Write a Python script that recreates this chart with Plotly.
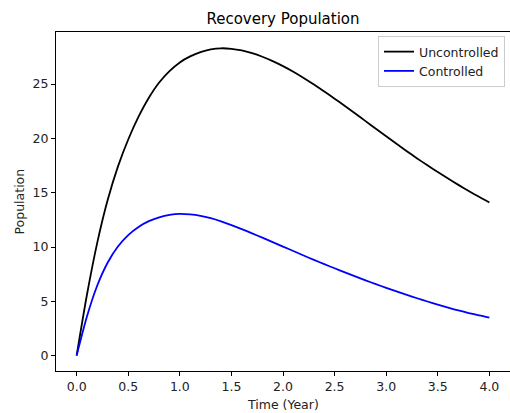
import plotly.graph_objects as go

time_years = [round(0.1 * i, 1) for i in range(41)]

uncontrolled = [0.0, 5.6, 10.4, 14.3, 17.4, 19.9, 22.0, 23.75, 25.15, 26.2,
                27.0, 27.55, 27.95, 28.2, 28.3, 28.25, 28.1, 27.85, 27.52, 27.12,
                26.66, 26.14, 25.57, 24.96, 24.32, 23.66, 22.98, 22.29, 21.59, 20.89,
                20.19, 19.5, 18.82, 18.16, 17.52, 16.9, 16.3, 15.72, 15.16, 14.62,
                14.1]

controlled = [0.0, 3.6, 6.45, 8.55, 10.05, 11.1, 11.85, 12.38, 12.72, 12.95,
              13.05, 13.0, 12.87, 12.65, 12.36, 12.02, 11.65, 11.26, 10.86, 10.45,
              10.04, 9.63, 9.22, 8.81, 8.42, 8.04, 7.66, 7.29, 6.93, 6.58,
              6.24, 5.91, 5.59, 5.28, 4.98, 4.69, 4.42, 4.16, 3.92, 3.7,
              3.5]

x_ticks = [0.0, 0.5, 1.0, 1.5, 2.0, 2.5, 3.0, 3.5, 4.0]
x_tick_labels = ["0.0", "0.5", "1.0", "1.5", "2.0", "2.5", "3.0", "3.5", "4.0"]
y_ticks = [0, 5, 10, 15, 20, 25]
y_tick_labels = ["0", "5", "10", "15", "20", "25"]

FONT = "DejaVu Sans"
FS = 12.5
W, H = 510, 413
L, R, T, B = 56, 0, 32, 42

fig = go.Figure()
fig.add_trace(go.Scatter(x=time_years, y=uncontrolled, mode="lines", name="Uncontrolled",
                         line=dict(color="black", width=1.8, shape="spline", smoothing=0.8)))
fig.add_trace(go.Scatter(x=time_years, y=controlled, mode="lines", name="Controlled",
                         line=dict(color="blue", width=1.8, shape="spline", smoothing=0.8)))

axis_common = dict(showgrid=False, zeroline=False, showline=True, linecolor="black",
                   linewidth=1, mirror=True, ticks="outside", ticklen=4, tickwidth=1,
                   tickcolor="black", automargin=False,
                   tickfont=dict(family=FONT, size=FS, color="#222"))

fig.update_layout(
    width=W, height=H,
    margin=dict(l=L, r=R, t=T, b=B, autoexpand=False),
    paper_bgcolor="white", plot_bgcolor="white",
    title=dict(text="Recovery Population", x=(L + W) / 2 / W, xanchor="center",
               y=1 - 19 / H, yanchor="middle",
               font=dict(family=FONT, size=15, color="black")),
    xaxis=dict(range=[-0.2, 4.2], tickvals=x_ticks, ticktext=x_tick_labels, **axis_common),
    yaxis=dict(range=[-1.42, 29.8], tickvals=y_ticks, ticktext=y_tick_labels, **axis_common),
    legend=dict(x=(378 - L) / (W - L - R), y=(H - B - 36) / (H - T - B),
                xanchor="left", yanchor="top",
                bgcolor="white", bordercolor="#cccccc", borderwidth=1,
                font=dict(family=FONT, size=FS, color="#222"), itemwidth=30,
                tracegroupgap=0),
    showlegend=True,
    annotations=[
        dict(text="Time (Year)", xref="paper", yref="paper", x=0.5, xanchor="center",
             y=-(404 - (H - B)) / (H - T - B), yanchor="middle", showarrow=False,
             font=dict(family=FONT, size=FS, color="#222")),
        dict(text="Population", xref="paper", yref="paper", x=-(L - 19) / (W - L - R),
             xanchor="center", y=0.5, yanchor="middle", textangle=-90, showarrow=False,
             font=dict(family=FONT, size=FS, color="#222")),
    ],
)

fig.write_html("out.html", config={"displayModeBar": False},
               post_script="document.body.style.margin='0';")
